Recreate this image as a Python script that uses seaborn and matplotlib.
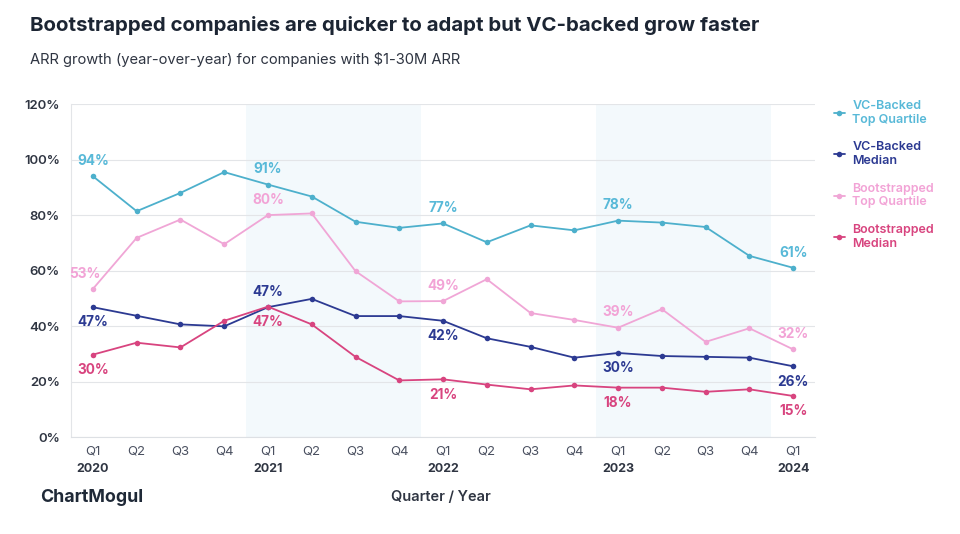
import matplotlib.pyplot as plt
import matplotlib.transforms as mtransforms
import numpy as np
import pandas as pd
import seaborn as sns

# quarterly ARR growth (%), Q1 2020 .. Q1 2024
quarters = ["Q1", "Q2", "Q3", "Q4"] * 4 + ["Q1"]
years = ["2020", "2021", "2022", "2023", "2024"]
vc_top = [94, 81.4, 88, 95.5, 91, 86.7, 77.6, 75.4, 77, 70.2, 76.3, 74.5, 78, 77.3, 75.7, 65.3, 61]
vc_median = [46.8, 43.7, 40.6, 39.9, 46.8, 49.8, 43.6, 43.6, 41.9, 35.6, 32.5, 28.6, 30.3, 29.2, 28.9, 28.6, 25.5]
boot_top = [53.4, 71.8, 78.4, 69.5, 80, 80.6, 59.8, 48.9, 49, 56.9, 44.7, 42.2, 39.4, 46.1, 34.3, 39.2, 31.6]
boot_median = [29.7, 34.0, 32.3, 41.9, 47, 40.6, 28.9, 20.4, 20.8, 18.9, 17.2, 18.6, 17.8, 17.8, 16.3, 17.2, 14.8]

series_names = ["VC-Backed\nTop Quartile", "VC-Backed\nMedian",
                "Bootstrapped\nTop Quartile", "Bootstrapped\nMedian"]
series_values = [vc_top, vc_median, boot_top, boot_median]
line_colors = ["#4db0cc", "#2c3a92", "#f0a6d6", "#d8447f"]
text_colors = ["#58b9d8", "#2c3a92", "#f2a3d6", "#d8447f"]
# which side of the point the Q1 labels sit on
label_sides = [["above"] * 5,
               ["below", "above", "below", "below", "below"],
               ["above"] * 5,
               ["below"] * 5]

rows = []
for name, vals in zip(series_names, series_values):
    for i, v in enumerate(vals):
        rows.append({"idx": i, "growth": v, "series": name})
df = pd.DataFrame(rows)

sns.set_style("white")
plt.rcParams["font.family"] = ["Inter", "DejaVu Sans"]

fig = plt.figure(figsize=(9.6, 5.34), dpi=100)
ax = fig.add_axes([0.074, 0.1816, 0.775, 0.6234])

# shaded years 2021 and 2023
ax.axvspan(3.5, 7.5, color="#f3f9fc", zorder=0, lw=0)
ax.axvspan(11.5, 15.5, color="#f3f9fc", zorder=0, lw=0)

sns.lineplot(data=df, x="idx", y="growth", hue="series", hue_order=series_names,
             palette=line_colors, marker="o", markersize=4, markeredgewidth=0,
             linewidth=1.3, ax=ax)

# value labels on each Q1
for vals, col, sides in zip(series_values, text_colors, label_sides):
    for k, i in enumerate(range(0, len(vals), 4)):
        dy = 11 if sides[k] == "above" else -11
        dx = -6 if (i == 0 and vals is boot_top) else 0
        ax.annotate(f"{vals[i]:.0f}%", (i, vals[i]), xytext=(dx, dy),
                    textcoords="offset points", ha="center", va="center",
                    fontsize=9.8, fontweight="bold", color=col)

ax.set_xlim(-0.5, len(quarters) - 0.5)
ax.set_ylim(0, 120)
ax.set_yticks(range(0, 121, 20))
ax.set_yticklabels([f"{t}%" for t in range(0, 121, 20)])
ax.set_xticks(range(len(quarters)))
ax.set_xticklabels(quarters)
ax.set_xticks(np.arange(-0.5, len(quarters), 1), minor=True)
ax.tick_params(axis="x", which="major", length=0, pad=6, labelsize=9.5, labelcolor="#4a5060")
ax.tick_params(axis="x", which="minor", length=4, color="#dde0e4", width=0.8)
ax.tick_params(axis="y", length=0, pad=8, labelsize=9.5, labelcolor="#2f3542")
for lab in ax.get_yticklabels():
    lab.set_fontweight("semibold")
ax.grid(axis="y", color="#e3e5e8", lw=0.8)
ax.set_axisbelow(True)
sns.despine(ax=ax)
ax.spines["left"].set_color("#e3e5e8")
ax.spines["bottom"].set_color("#dde0e4")
ax.set_xlabel("")
ax.set_ylabel("")

# year labels under every Q1
trans = mtransforms.blended_transform_factory(ax.transData, ax.transAxes)
for k, yr in enumerate(years):
    ax.text(k * 4, -0.095, yr, transform=trans, ha="center", va="center",
            fontsize=9, fontweight="bold", color="#2f3542")

# legend
handles, labels = ax.get_legend_handles_labels()
leg = ax.legend(handles, labels, loc="upper left", bbox_to_anchor=(1.01, 1.047),
                frameon=False, fontsize=9, handlelength=0.9, handletextpad=0.6,
                labelspacing=1.25)
for txt, col in zip(leg.get_texts(), text_colors):
    txt.set_color(col)
    txt.set_fontweight("semibold")

fig.text(0.031, 0.953, "Bootstrapped companies are quicker to adapt but VC-backed grow faster",
         fontsize=14.7, fontweight="bold", color="#1c2533", va="center")
fig.text(0.031, 0.888, "ARR growth (year-over-year) for companies with $1-30M ARR",
         fontsize=10.6, color="#2f3542", va="center")
fig.text(0.459, 0.069, "Quarter / Year", fontsize=10.5, fontweight="semibold",
         color="#2f3542", ha="center", va="center")
fig.text(0.042, 0.069, "ChartMogul", fontsize=12.8, fontweight="bold",
         color="#1f2937", va="center")

fig.savefig("out.png", dpi=100)
